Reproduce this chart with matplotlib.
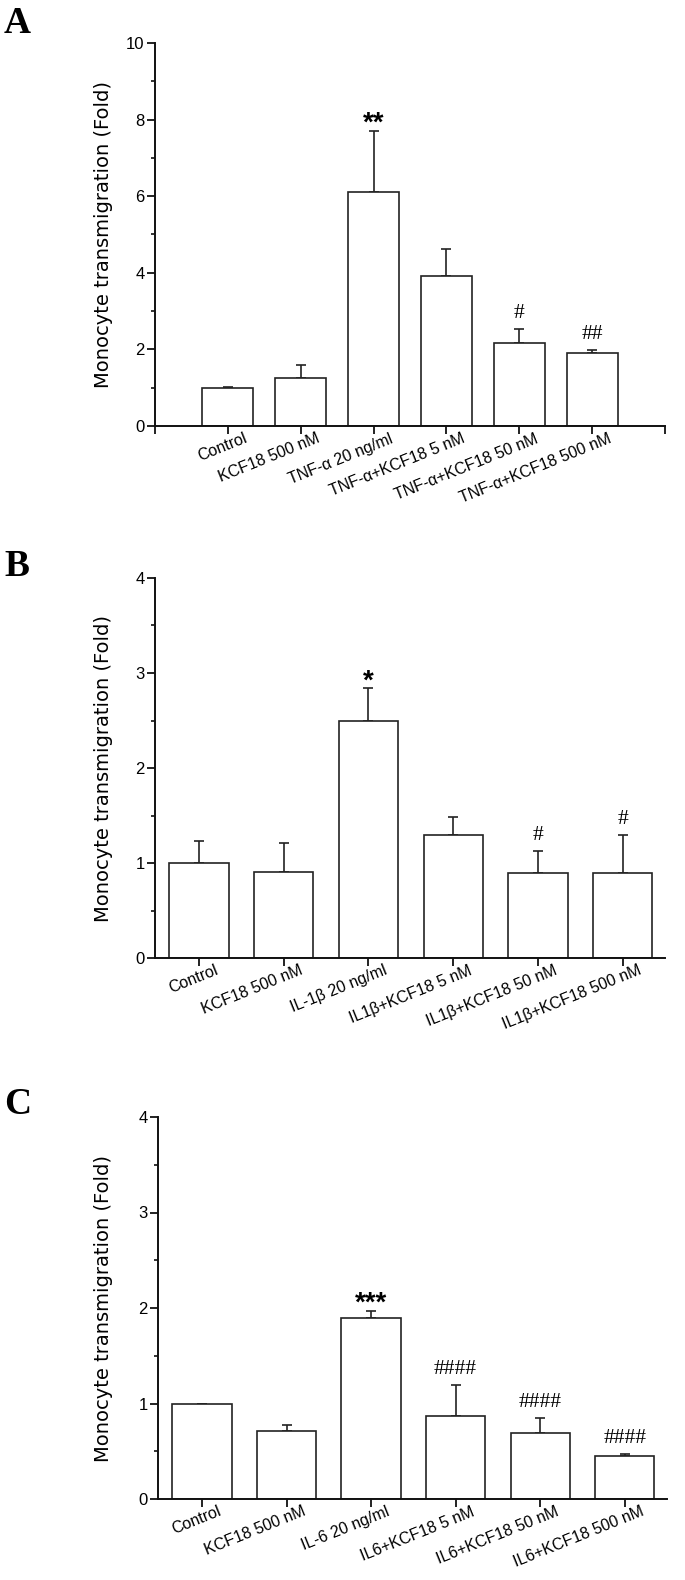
import matplotlib
matplotlib.use("Agg")
import matplotlib.pyplot as plt
from matplotlib.ticker import MultipleLocator

plt.rcParams['font.family'] = ['Liberation Sans', 'DejaVu Sans']

# ---------------- data ----------------
labels_a = ["Control", "KCF18 500 nM", "TNF-α 20 ng/ml", "TNF-α+KCF18 5 nM",
            "TNF-α+KCF18 50 nM", "TNF-α+KCF18 500 nM"]
means_a = [1.0, 1.25, 6.10, 3.92, 2.17, 1.90]
errs_a = [0.03, 0.35, 1.60, 0.69, 0.36, 0.08]
marks_a = ["", "", "**", "", "#", "##"]

labels_b = ["Control", "KCF18 500 nM", "IL-1β 20 ng/ml", "IL1β+KCF18 5 nM",
            "IL1β+KCF18 50 nM", "IL1β+KCF18 500 nM"]
means_b = [1.0, 0.91, 2.50, 1.29, 0.89, 0.89]
errs_b = [0.23, 0.30, 0.34, 0.19, 0.24, 0.40]
marks_b = ["", "", "*", "", "#", "#"]

labels_c = ["Control", "KCF18 500 nM", "IL-6 20 ng/ml", "IL6+KCF18 5 nM",
            "IL6+KCF18 50 nM", "IL6+KCF18 500 nM"]
means_c = [1.0, 0.71, 1.90, 0.87, 0.69, 0.45]
errs_c = [0.0, 0.06, 0.07, 0.32, 0.16, 0.02]
marks_c = ["", "", "***", "####", "####", "####"]

ylabel = "Monocyte transmigration (Fold)"

fig = plt.figure(figsize=(6.85, 15.80), dpi=100)
W, H = 685.0, 1580.0

def make_axes(l, r, t, b):
    return fig.add_axes([l / W, 1 - b / H, (r - l) / W, (b - t) / H])

panels = [
    dict(box=(155, 665, 43, 426), labels=labels_a, means=means_a, errs=errs_a,
         marks=marks_a, ylim=(0, 10), major=2, minor=1, xlim=(-1, 6), letter="A",
         letter_y=33),
    dict(box=(155, 665, 578, 958), labels=labels_b, means=means_b, errs=errs_b,
         marks=marks_b, ylim=(0, 4), major=1, minor=0.5, xlim=(-0.52, 5.5), letter="B",
         letter_y=576),
    dict(box=(158, 667, 1117, 1499), labels=labels_c, means=means_c, errs=errs_c,
         marks=marks_c, ylim=(0, 4), major=1, minor=0.5, xlim=(-0.52, 5.5), letter="C",
         letter_y=1114),
]

dark = "#222222"
for p in panels:
    ax = make_axes(*p["box"])
    l, r, t, b = p["box"]
    x = list(range(len(p["labels"])))
    ax.bar(x, p["means"], width=0.70, color="white", edgecolor=dark,
           linewidth=1.2, zorder=2)
    ax.errorbar(x, p["means"], yerr=[[0] * len(x), p["errs"]], fmt="none",
                ecolor=dark, elinewidth=1.2, capsize=3.5, capthick=1.2, zorder=1)
    ax.set_xlim(*p["xlim"])
    ax.set_ylim(*p["ylim"])
    ax.yaxis.set_major_locator(MultipleLocator(p["major"]))
    ax.yaxis.set_minor_locator(MultipleLocator(p["minor"]))
    ax.set_xticks(x)
    ax.set_xticklabels([""] * len(x))
    # category labels, rotated, right end slightly to the right of the tick
    for xi, lab in zip(x, p["labels"]):
        ax.annotate(lab, xy=(xi, 0), xycoords=("data", "axes fraction"),
                    xytext=(21, -5), textcoords="offset pixels",
                    rotation=22, ha="right", va="top", fontsize=11.5)
    for s in ("top", "right"):
        ax.spines[s].set_visible(False)
    for s in ("left", "bottom"):
        ax.spines[s].set_linewidth(1.4)
        ax.spines[s].set_color("#111111")
    ax.tick_params(axis="both", which="major", length=5.5, width=1.3, color="#111111")
    ax.tick_params(axis="y", which="minor", length=3, width=1.2, color="#111111")
    ax.tick_params(axis="y", labelsize=12, pad=2)
    ax.set_ylabel(ylabel, fontsize=14, family=["DejaVu Sans"])
    ax.yaxis.set_label_coords((113 - l) / (r - l), 0.5)
    if p["letter"] == "A":
        ax.set_xticks([-1, 6], minor=True)
        ax.tick_params(axis="x", which="minor", length=5.5, width=1.3, color="#111111")
    # significance marks
    for xi, m, e, mk in zip(x, p["means"], p["errs"], p["marks"]):
        if not mk:
            continue
        if "*" in mk:
            ax.annotate(mk, (xi, m + e), xytext=(0, 0), textcoords="offset points",
                        ha="center", va="baseline", fontsize=20, fontweight="bold")
        else:
            ax.annotate(mk, (xi, m + e), xytext=(0, 8), textcoords="offset points",
                        ha="center", va="baseline", fontsize=15.5,
                        family=["Liberation Serif", "DejaVu Serif"])
    fig.text(4 / W, 1 - p["letter_y"] / H, p["letter"], fontsize=27,
             fontweight="bold", family=["Liberation Serif", "DejaVu Serif"],
             ha="left", va="baseline")

fig.savefig("out.png", dpi=100)
